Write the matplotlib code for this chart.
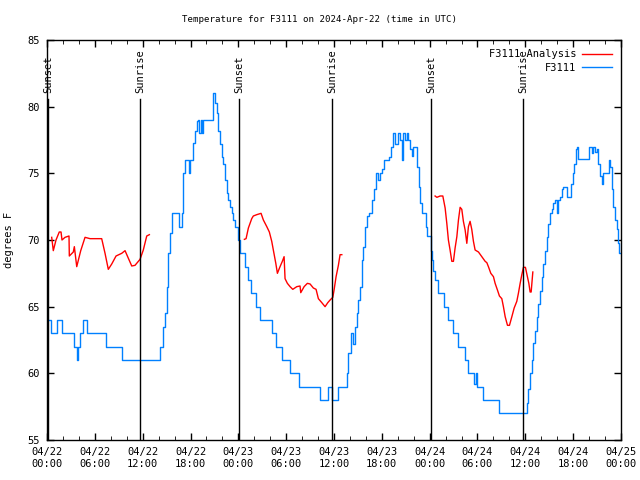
import numpy as np
import matplotlib
matplotlib.use("Agg")
import matplotlib.pyplot as plt

nan = np.nan

# hours since 2024-04-22 00:00 UTC
obs_hours = [0.13, 0.38, 0.5, 1.13, 1.25, 1.76, 1.88, 3.14, 3.39, 3.76, 3.89, 4.14, 4.52, 4.89,
             5.02, 7.03, 7.4, 9.16, 9.41, 13.93, 14.18, 14.55, 14.81, 15.06, 15.18, 15.43,
             15.68, 16.31, 16.5, 16.62, 16.94, 17.1, 17.31, 17.6, 17.75, 17.94, 18.36, 18.57,
             18.82, 18.98, 19.1, 19.28, 19.41, 19.54, 20.79, 20.87, 21.08, 21.29, 21.49, 21.71,
             21.92, 22.12, 22.33, 22.55, 22.75, 22.96, 23.17, 23.38, 23.59, 24.0, 24.22, 24.84,
             25.26, 25.56, 26.22, 26.73, 27.98, 28.19, 28.73, 29.32, 29.52, 30.28, 30.49, 31.53,
             31.66, 34.04, 34.25, 35.09, 35.26, 35.51, 35.72, 36.35, 36.51, 37.39, 37.6, 37.8,
             38.1, 38.35, 38.65, 38.86, 39.06, 39.27, 39.49, 39.69, 39.9, 40.19, 40.44, 40.74,
             41.03, 41.28, 41.57, 41.78, 41.99, 42.28, 42.95, 43.12, 43.45, 43.66, 43.88, 44.08,
             44.29, 44.5, 44.7, 44.92, 45.13, 45.33, 45.55, 45.76, 45.96, 46.3, 46.46, 46.68,
             46.8, 47.01, 47.39, 47.52, 47.72, 48.14, 48.27, 48.47, 48.68, 48.93, 49.1, 49.65,
             49.81, 50.15, 50.35, 50.69, 50.9, 51.41, 51.61, 52.23, 52.45, 52.74, 52.86, 53.49,
             53.61, 53.79, 53.91, 54.74, 56.5, 56.75, 59.97, 60.19, 60.39, 60.6, 60.81, 61.02,
             61.23, 61.44, 61.64, 61.86, 62.07, 62.27, 62.48, 62.7, 62.9, 63.11, 63.32, 63.53,
             63.74, 63.95, 64.15, 64.37, 64.58, 64.78, 65.12, 65.28, 65.46, 65.71, 65.96, 66.12,
             66.37, 66.54, 66.66, 67.79, 68.0, 68.22, 68.34, 68.54, 68.76, 68.97, 69.17, 69.39,
             69.6, 69.8, 70.3, 70.51, 70.63, 70.84, 71.05, 71.26, 71.48, 71.68, 71.81, 72.0]
obs_temps = [64, 64, 63, 63, 64, 64, 63, 63, 62, 61, 62, 63, 64, 64,
             63, 63, 62, 62, 61, 61, 62, 63.5, 64.5, 66.5, 69, 70.5,
             72, 72, 71, 71, 72, 75, 76, 76, 75, 76, 77.3, 78.2,
             78.9, 79, 78, 79, 78, 79, 79, 81, 80.3, 79.5, 78.2, 77.2,
             76.2, 75.7, 74.5, 73.5, 73, 72.5, 72, 71.5, 71, 70, 69, 68,
             67, 66, 65, 64, 64, 63, 62, 62, 61, 61, 60, 60,
             59, 59, 58, 58, 59, 59, 58, 58, 59, 59, 60, 61.5,
             63, 62.2, 63.5, 64.5, 65.5, 66.5, 68.5, 69.5, 71, 71.8, 72, 73,
             73.8, 75, 74.5, 75, 75.3, 76, 76.2, 77, 78, 77.2, 77.2, 78,
             77.5, 76, 78, 77.5, 78, 77.5, 76.8, 76.3, 77, 77, 75.5, 74,
             72.8, 72, 72, 71, 70.3, 69.2, 68.5, 67.7, 67, 67, 66, 66,
             65, 65, 64, 64, 63, 63, 62, 62, 61, 61, 60, 60,
             59.2, 60, 59, 58, 58, 57, 57, 57.8, 58.8, 60, 61, 62.3,
             63.2, 64.2, 65.2, 66.2, 67.2, 68.2, 69.2, 70.2, 71.2, 72, 72.3, 72.8,
             73, 72, 73, 73.2, 73.8, 74, 74, 73.2, 73.2, 74.2, 75, 75.7,
             76.8, 77, 76.1, 76.1, 77, 77, 76.5, 77, 76.6, 76.8, 75.7, 74.8,
             74.2, 75, 75, 76, 75.5, 73.8, 72.5, 71.5, 70.8, 69.8, 69, 69]

ana_hours = [0.59, 0.79, 1.13, 1.54, 1.76, 1.88, 2.26, 2.76, 2.8, 3.3, 3.43, 3.73, 4.23, 4.77,
             5.4, 6.86, 7.28, 7.69, 8.12, 8.66, 9.37, 9.79, 10.08, 10.63, 11.04, 11.67, 12.08,
             12.51, 12.84, 13.0,
             24.76, 24.97, 25.26, 25.68, 25.88, 26.31, 26.85, 27.14, 27.57, 27.89, 28.19, 28.39,
             28.7, 28.9, 29.23, 29.52, 29.74, 29.86, 30.15, 30.49, 30.83, 31.33, 31.74, 31.83,
             32.25, 32.66, 33.0, 33.41, 33.75, 34.04, 34.47, 34.88, 35.22, 35.51, 35.85, 36.01,
             36.26, 36.55, 36.76, 36.98, 37.1,
             48.68, 48.9, 49.31, 49.65, 49.94, 50.15, 50.35, 50.56, 50.78, 50.98, 51.19, 51.41,
             51.61, 51.82, 52.03, 52.23, 52.45, 52.66, 52.86, 53.07, 53.28, 53.49, 53.7, 54.12,
             54.54, 54.96, 55.17, 55.37, 55.67, 56.0, 56.21, 56.5, 56.75, 57.05, 57.25, 57.47,
             57.76, 58.01, 58.31, 58.6, 58.93, 59.13, 59.35, 59.56, 59.76, 60.01, 60.26, 60.44,
             60.6, 60.73, 60.94]
ana_temps = [70.2, 69.2, 70, 70.6, 70.6, 70, 70.2, 70.3, 68.8, 69.1, 69.5, 68, 69.2, 70.2,
             70.1, 70.1, 69, 67.8, 68.2, 68.8, 69, 69.2, 68.8, 68.05, 68.1, 68.55, 69.25,
             70.3, 70.4, nan,
             70.05, 70.1, 70.9, 71.6, 71.8, 71.9, 72, 71.5, 71, 70.6, 69.9, 69.25,
             68.25, 67.5, 68, 68.4, 68.75, 67.1, 66.75, 66.5, 66.3, 66.5, 66.55, 66.05,
             66.5, 66.75, 66.7, 66.4, 66.3, 65.6, 65.3, 65, 65.3, 65.5, 65.7, 66.25,
             67.25, 68.1, 68.9, 68.9, nan,
             73.3, 73.2, 73.3, 73.3, 72.4, 71.25, 70, 69.25, 68.4, 68.4, 69.4, 70.25,
             71.5, 72.45, 72.3, 71.4, 70.75, 69.75, 71, 71.4, 70.8, 69.9, 69.25, 69.1,
             68.75, 68.4, 68.3, 68, 67.5, 67.25, 66.75, 66.25, 65.8, 65.6, 65, 64.25,
             63.6, 63.6, 64.25, 64.9, 65.4, 66, 66.75, 67.4, 67.95, 67.95, 67.25, 66.75,
             66.1, 66.1, 67.6]

sun_hours = [0.15, 11.67, 24.09, 35.76, 48.18, 59.72]
sun_labels = ["Sunset", "Sunrise", "Sunset", "Sunrise", "Sunset", "Sunrise"]

tick_hours = list(range(0, 73, 6))
tick_labels = ["04/22\n00:00", "04/22\n06:00", "04/22\n12:00", "04/22\n18:00",
               "04/23\n00:00", "04/23\n06:00", "04/23\n12:00", "04/23\n18:00",
               "04/24\n00:00", "04/24\n06:00", "04/24\n12:00", "04/24\n18:00",
               "04/25\n00:00"]

plt.rcParams['font.family'] = ['DejaVu Sans Mono']
plt.rcParams['font.size'] = 7.5

fig = plt.figure(figsize=(6.4, 4.8), dpi=100)
ax = fig.add_axes([47 / 640, 40 / 480, 574 / 640, 400 / 480])

ax.plot(ana_hours, ana_temps, color="#ff0000", lw=1.0, label="F3111 Analysis")
ax.plot(obs_hours, obs_temps, color="#0080ff", lw=1.0, drawstyle="steps-post", label="F3111")

for h, lab in zip(sun_hours, sun_labels):
    ax.plot([h, h], [55, 80.55], color="black", lw=1.0)
    ax.text(h, 81.0, lab, rotation=90, ha="center", va="bottom", fontsize=7.5)

ax.set_xlim(0, 72)
ax.set_ylim(55, 85)
ax.set_xticks(tick_hours)
ax.set_xticklabels(tick_labels)
ax.set_xticks(range(0, 73, 2), minor=True)
ax.set_yticks(range(55, 86, 5))
ax.tick_params(direction="in", top=True, right=True, length=5, width=1, pad=5)
ax.tick_params(which="minor", direction="in", top=True, length=3)
for s in ax.spines.values():
    s.set_linewidth(1.0)

ax.set_ylabel("degrees F", labelpad=10)
# title is centred on the whole figure, like gnuplot does
fig.text(0.5, 1 - 19 / 480, "Temperature for F3111 on 2024-Apr-22 (time in UTC)",
         fontsize=6.6, ha="center", va="center")
ax.legend(loc="upper right", frameon=False, markerfirst=False, handlelength=2.8,
          borderaxespad=0.5, labelspacing=0.35, handletextpad=0.6, fontsize=7.5)

fig.savefig("out.png", dpi=100)
